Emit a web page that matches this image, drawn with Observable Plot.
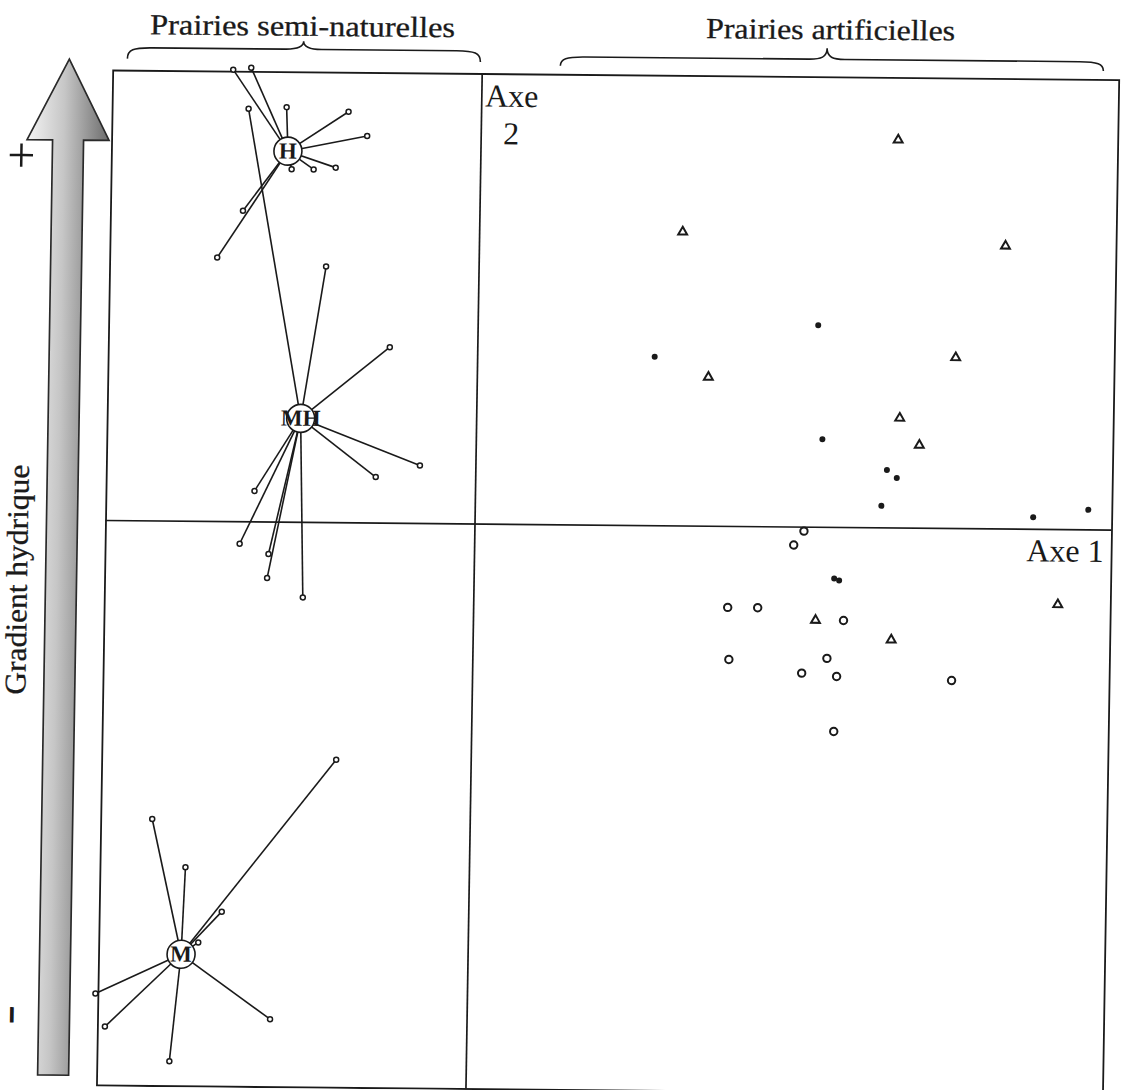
<!DOCTYPE html>
<html>
<head>
<meta charset="utf-8">
<script src="https://cdn.jsdelivr.net/npm/d3@7"></script>
<script src="https://cdn.jsdelivr.net/npm/@observablehq/plot@0.6"></script>
<style>
html, body { margin: 0; padding: 0; background: #fff; overflow: hidden; }
#chart svg { display: block; transform-origin: 474.5px 523.5px; transform: matrix(1, 0.0095, -0.016, 1, 0, 0); }
</style>
</head>
<body>
<div id="chart"></div>
<script>
// ---- Semi-natural grasslands: group centroids (Axe 1, Axe 2) ----
const groupNames = ["H", "MH", "M"];
const groupX = [-1.93, -1.76, -2.87];
const groupY = [3.71, 1.04, -4.33];

// relevés of each group
const hX  = [-2.49, -2.31, -1.95, -1.33, -1.14, -1.45, -1.67, -1.89, -2.37, -2.62];
const hY  = [ 4.52,  4.54,  4.15,  4.11,  3.87,  3.55,  3.53,  3.53,  3.11,  2.64];
const mhX = [-2.33, -1.53, -0.88, -0.56, -1.00, -2.21, -2.35, -2.06, -2.07, -1.71];
const mhY = [ 4.13,  2.56,  1.76,  0.58,  0.46,  0.31, -0.22, -0.32, -0.56, -0.75];
const mX  = [-1.35, -3.18, -2.84, -2.47, -2.70, -3.72, -3.62, -1.97, -2.97];
const mY  = [-2.37, -2.98, -3.46, -3.90, -4.21, -4.73, -5.06, -4.97, -5.40];

// ---- Artificial grasslands ----
const triX  = [4.17, 2.03, 5.26, 4.78, 2.31, 4.23, 4.43, 3.42, 4.18, 5.84];
const triY  = [3.88, 2.94, 2.83, 1.71, 1.49, 1.10, 0.83, -0.93, -1.12, -0.75];
const dotX  = [3.40, 1.77, 3.46, 4.11, 4.21, 4.06, 5.58, 6.13, 3.60, 3.65];
const dotY  = [2.02, 1.69, 0.88, 0.58, 0.50, 0.22, 0.12, 0.20, -0.51, -0.53];
const ringX = [3.29, 3.19, 2.54, 2.84, 3.70, 2.56, 3.54, 3.29, 3.64, 4.79, 3.62];
const ringY = [-0.04, -0.18, -0.81, -0.81, -0.93, -1.33, -1.31, -1.46, -1.49, -1.52, -2.04];

// ---- texts ----
const axisLabels = ["Axe 1", "Axe\n2"];
const groupTitles = ["Prairies semi-naturelles", "Prairies artificielles"];
const gradientLabel = "Gradient hydrique";
const gradientEnds = ["+", "-"];

const xDomain = [-3.69, 6.37];
const yDomain = [-5.65, 4.5];

// tables built from arrays
const memberX = [hX, mhX, mX], memberY = [hY, mhY, mY];
const members = groupNames.flatMap((g, i) => memberX[i].map((x, j) => ({
  group: g, cx: groupX[i], cy: groupY[i], x, y: memberY[i][j]
})));
const centers = groupNames.map((g, i) => ({name: g, x: groupX[i], y: groupY[i]}));
const zip = (xs, ys) => xs.map((x, i) => ({x, y: ys[i]}));

const ink = "#1a1a1a";
const serif = "Liberation Serif, Times New Roman, serif";

const svg = Plot.plot({
  width: 1124,
  height: 1090,
  marginLeft: 105.5,
  marginRight: 12.5,
  marginTop: 73.5,
  marginBottom: 1.5,
  x: {domain: xDomain, axis: null},
  y: {domain: yDomain, axis: null},
  style: {background: "white", fontFamily: serif},
  marks: [
    Plot.frame({stroke: ink, strokeWidth: 1.8}),
    Plot.ruleX([0], {stroke: ink, strokeWidth: 1.7}),
    Plot.ruleY([0], {stroke: ink, strokeWidth: 1.7}),
    Plot.link(members, {x1: "cx", y1: "cy", x2: "x", y2: "y", stroke: ink, strokeWidth: 1.6}),
    Plot.dot(members, {x: "x", y: "y", r: 2.5, fill: "white", stroke: ink, strokeWidth: 1.5}),
    Plot.dot(centers, {x: "x", y: "y", r: 14, fill: "white", stroke: ink, strokeWidth: 1.6}),
    Plot.text(centers, {x: "x", y: "y", text: "name", fontWeight: "bold", fontSize: 23, fontFamily: serif, fill: ink}),
    Plot.dot(zip(triX, triY), {x: "x", y: "y", symbol: "triangle", r: 3.3, fill: "white", stroke: ink, strokeWidth: 2}),
    Plot.dot(zip(dotX, dotY), {x: "x", y: "y", r: 3, fill: ink}),
    Plot.dot(zip(ringX, ringY), {x: "x", y: "y", r: 3.7, fill: "white", stroke: ink, strokeWidth: 2}),
    Plot.text([axisLabels[0]], {x: xDomain[1], y: 0, dx: -8, dy: 32, textAnchor: "end", lineAnchor: "bottom", fontSize: 32, fontFamily: serif, fill: ink}),
    Plot.text([axisLabels[1]], {x: 0, y: yDomain[1], dx: 30, dy: 70, textAnchor: "middle", lineAnchor: "bottom", lineHeight: 1.17, fontSize: 32, fontFamily: serif, fill: ink})
  ]
});

// ---- decorations outside the frame ----
const s = d3.select(svg);
const defs = s.append("defs");
const grad = defs.append("linearGradient").attr("id", "arrowGrad")
  .attr("x1", 0).attr("x2", 1).attr("y1", 0).attr("y2", 0);
grad.append("stop").attr("offset", 0).attr("stop-color", "#f4f4f4");
grad.append("stop").attr("offset", 0.45).attr("stop-color", "#c6c6c6");
grad.append("stop").attr("offset", 1).attr("stop-color", "#6c6c6c");

const cx = 62, tipY = 63, baseY = 144, bottomY = 1079, wing = 41, shaft = 15.5;
s.append("path")
  .attr("d", `M${cx},${tipY} L${cx + wing},${baseY} L${cx + shaft},${baseY} L${cx + shaft},${bottomY} L${cx - shaft},${bottomY} L${cx - shaft},${baseY} L${cx - wing},${baseY} Z`)
  .attr("fill", "url(#arrowGrad)").attr("stroke", "#2a2a2a").attr("stroke-width", 1.7).attr("stroke-linejoin", "miter");

function brace(x0, x1, tip, endY, bodyY, tipY) {
  return `M${x0},${endY} C${x0},${bodyY + 2} ${x0 + 6},${bodyY} ${x0 + 24},${bodyY} ` +
    `L${tip - 18},${bodyY} C${tip - 6},${bodyY} ${tip},${bodyY - 2} ${tip},${tipY} ` +
    `C${tip},${bodyY - 2} ${tip + 6},${bodyY} ${tip + 18},${bodyY} ` +
    `L${x1 - 24},${bodyY} C${x1 - 6},${bodyY} ${x1},${bodyY + 2} ${x1},${endY}`;
}
s.append("path").attr("d", brace(120, 473, 296, 62, 51, 43))
  .attr("fill", "none").attr("stroke", ink).attr("stroke-width", 1.6);
s.append("path").attr("d", brace(553, 1096, 819.5, 65, 56, 45))
  .attr("fill", "none").attr("stroke", ink).attr("stroke-width", 1.6);

const titlePos = [[294.7, 37.5, 305], [822.7, 36, 249]];
groupTitles.forEach((t, i) => {
  s.append("text").text(t)
    .attr("x", titlePos[i][0]).attr("y", titlePos[i][1])
    .attr("text-anchor", "middle").attr("font-family", serif).attr("font-size", 29)
    .attr("textLength", titlePos[i][2]).attr("lengthAdjust", "spacingAndGlyphs")
    .attr("fill", ink).attr("stroke", ink).attr("stroke-width", 0.3);
});

s.append("text").text(gradientLabel)
  .attr("transform", "translate(28,584) rotate(-90)")
  .attr("text-anchor", "middle").attr("font-family", serif).attr("font-size", 30)
  .attr("textLength", 230).attr("lengthAdjust", "spacingAndGlyphs")
  .attr("fill", ink).attr("stroke", ink).attr("stroke-width", 0.3);

s.append("text").text(gradientEnds[0])
  .attr("x", 15.5).attr("y", 176)
  .attr("text-anchor", "middle").attr("font-family", serif).attr("font-size", 50)
  .attr("fill", ink);

// minus sign drawn along the vertical reading direction
s.append("text").text(gradientEnds[1])
  .attr("transform", "translate(14.5,1019) rotate(90)")
  .attr("text-anchor", "middle").attr("font-family", serif).attr("font-weight", "bold").attr("font-size", 22)
  .attr("textLength", 15).attr("lengthAdjust", "spacingAndGlyphs")
  .attr("fill", ink).attr("stroke", ink).attr("stroke-width", 1.8);

document.getElementById("chart").append(svg);
</script>
</body>
</html>
